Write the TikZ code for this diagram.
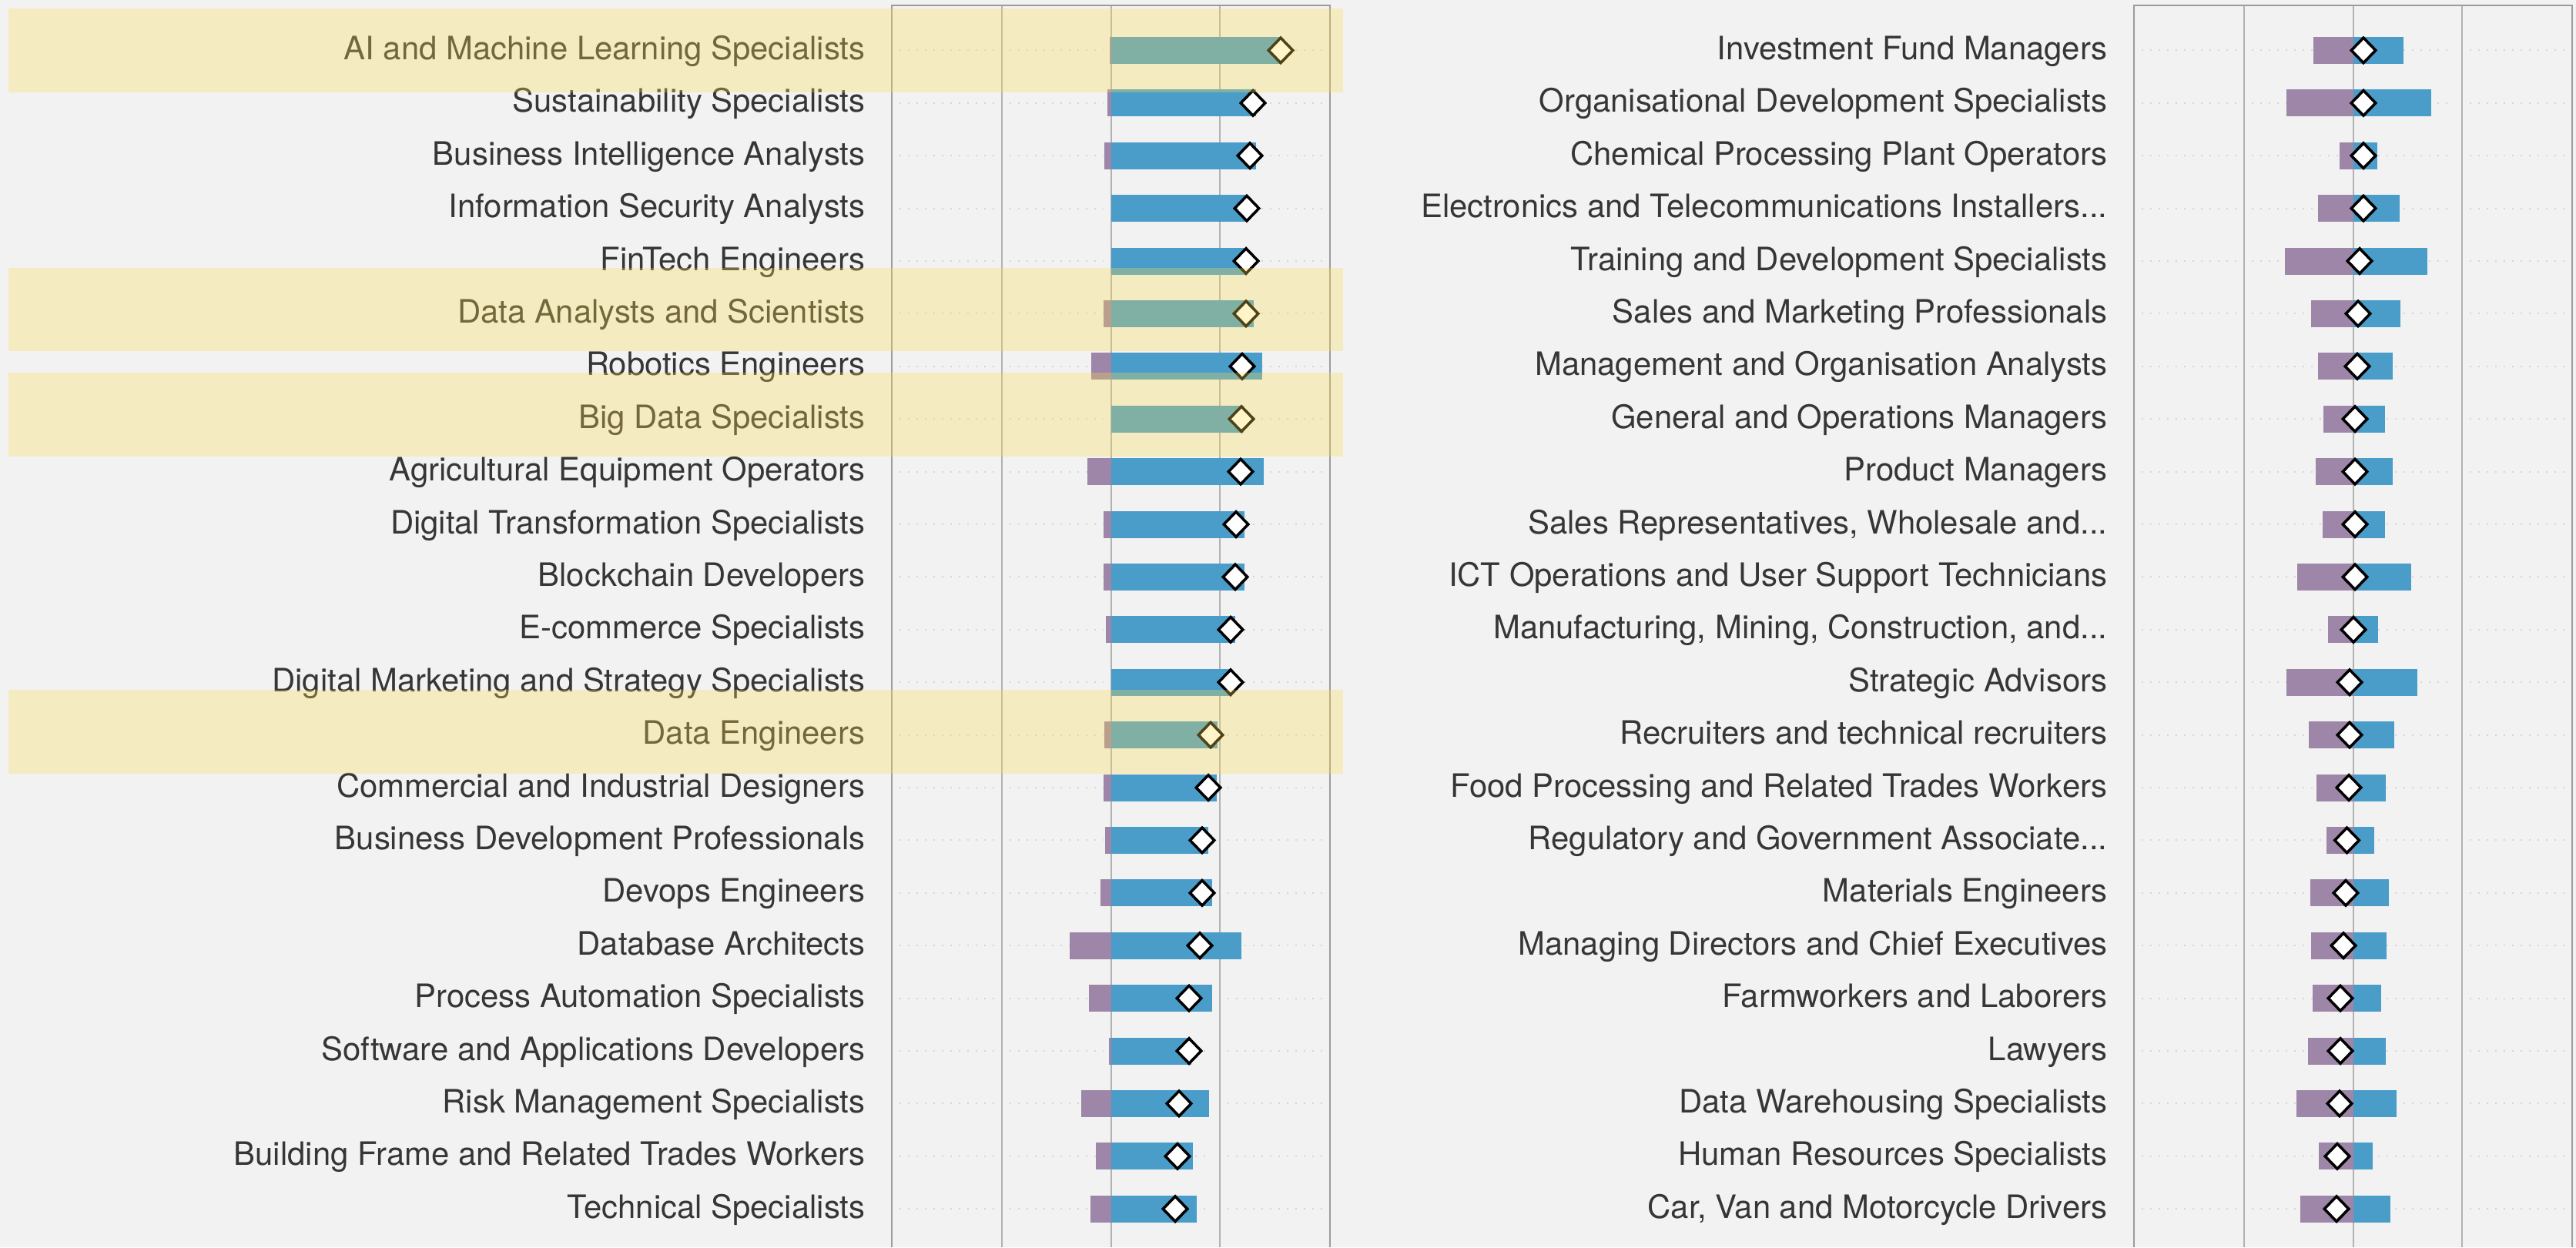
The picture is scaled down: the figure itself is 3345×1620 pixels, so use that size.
\documentclass[tikz,border=0pt]{standalone}
\usepackage{fontspec}
\setmainfont{TeX Gyre Heros}
\usetikzlibrary{shapes}
\definecolor{bg}{HTML}{F2F2F2}
\definecolor{txt}{HTML}{363636}
\definecolor{frm}{HTML}{9C9C9C}
\definecolor{grd}{HTML}{B2B2B2}
\definecolor{dotc}{HTML}{D6D6D6}
\definecolor{barblue}{HTML}{4A9CC9}
\definecolor{barpurple}{HTML}{9D86A8}
\definecolor{hl}{RGB}{255,222,77}
\tikzstyle{lbl} = [anchor=base east, inner sep=0pt, text=txt,
    font=\fontsize{11.9pt}{14pt}\selectfont]
\tikzstyle{dmd} = [diamond, draw=black, fill=white, line width=1pt,
    minimum width=0.33cm, minimum height=0.34cm, inner sep=0pt]
\tikzstyle{gline} = [draw=grd, line width=0.02cm]
\tikzstyle{boxline} = [draw=frm, line width=0.025cm]
\tikzstyle{dotrow} = [draw=dotc, line width=0.02cm, dash pattern=on 0.02cm off 0.09cm]
\tikzstyle{band} = [fill=hl, fill opacity=0.3]
\newcommand{\ddd}{.{}.{}.}

\begin{document}
\begin{tikzpicture}[x=0.01cm, y=-0.01cm]
    \fill[bg] (0,0) rectangle (3345,1620);
    \useasboundingbox (0,0) rectangle (3345,1620);
    \foreach \z in {0,1613} {
        \foreach \g in {1301,1443,1584} \draw[gline] (\g+\z,7) -- (\g+\z,1620);
        \draw[boxline] (1158+\z,1620) -- (1158+\z,7) -- (1727+\z,7) -- (1727+\z,1620);
        \foreach \i in {0,1,2,3,4,5,6,7,8,9,10,11,12,13,14,15,16,17,18,19,20,21,22}
            \foreach \a/\c in {1158/1301,1301/1443,1443/1584,1584/1727}
                \draw[dotrow] (\a+\z+10,65.4+68.4*\i) -- (\c+\z-10,65.4+68.4*\i);
    }
    \foreach \lbl/\p/\b/\d [count=\i from 0] in {
        AI and Machine Learning Specialists/-2/220/220,
        Sustainability Specialists/-5/188/184,
        Business Intelligence Analysts/-9/188/180,
        Information Security Analysts/0/176/176,
        FinTech Engineers/0/175/175,
        Data Analysts and Scientists/-10/185/175,
        Robotics Engineers/-26/196/170,
        Big Data Specialists/0/172/169,
        Agricultural Equipment Operators/-31/198/168,
        Digital Transformation Specialists/-10/173/162,
        Blockchain Developers/-10/173/161,
        E-commerce Specialists/-7/161/155,
        Digital Marketing and Strategy Specialists/0/156/155,
        Data Engineers/-9/138/129,
        Commercial and Industrial Designers/-10/137/126,
        Business Development Professionals/-8/126/118,
        Devops Engineers/-14/131/118,
        Database Architects/-54/169/115,
        Process Automation Specialists/-29/131/101,
        Software and Applications Developers/-3/104/101,
        Risk Management Specialists/-39/127/88,
        Building Frame and Related Trades Workers/-20/106/86,
        Technical Specialists/-27/111/83} {
        \pgfmathsetmacro\y{65.4+68.4*\i}
        \fill[barpurple] (1443+\p,\y-17.5) rectangle (1443,\y+17.5);
        \fill[barblue] (1443,\y-17.5) rectangle (1443+\b,\y+17.5);
        \node[dmd] (dl\i) at (1443+\d,\y) {};
        \node[lbl] (lft\i) at (1124,\y+12) {\lbl};
    }
    \foreach \lbl/\p/\b/\d [count=\i from 0] in {
        Investment Fund Managers/-52/65/13,
        Organisational Development Specialists/-87/101/13,
        Chemical Processing Plant Operators/-18/31/13,
        {Electronics and Telecommunications Installers\ddd}/-46/60/13,
        Training and Development Specialists/-89/96/8,
        Sales and Marketing Professionals/-55/61/6,
        Management and Organisation Analysts/-46/51/5,
        General and Operations Managers/-39/41/2,
        Product Managers/-49/51/2,
        {Sales Representatives, Wholesale and\ddd}/-40/41/2,
        ICT Operations and User Support Technicians/-73/75/2,
        {Manufacturing, Mining, Construction, and\ddd}/-33/32/0,
        Strategic Advisors/-87/83/-5,
        Recruiters and technical recruiters/-58/53/-5,
        Food Processing and Related Trades Workers/-48/42/-6,
        {Regulatory and Government Associate\ddd}/-35/27/-8.5,
        Materials Engineers/-56/46/-10,
        Managing Directors and Chief Executives/-55/43/-13,
        Farmworkers and Laborers/-53/36/-17,
        Lawyers/-59/42/-17,
        Data Warehousing Specialists/-74/56/-18,
        Human Resources Specialists/-45/25/-21,
        {Car, Van and Motorcycle Drivers}/-69/48/-22} {
        \pgfmathsetmacro\y{65.4+68.4*\i}
        \fill[barpurple] (3056+\p,\y-17.5) rectangle (3056,\y+17.5);
        \fill[barblue] (3056,\y-17.5) rectangle (3056+\b,\y+17.5);
        \node[dmd] (dr\i) at (3056+\d,\y) {};
        \node[lbl] (rgt\i) at (2737,\y+12) {\lbl};
    }
    \foreach \i/\t/\u in {0/54/55, 5/59/49, 7/60/49, 13/59/50}
        \fill[band] (11,65.4+68.4*\i-\t) rectangle (1744,65.4+68.4*\i+\u);
\end{tikzpicture}
\end{document}
